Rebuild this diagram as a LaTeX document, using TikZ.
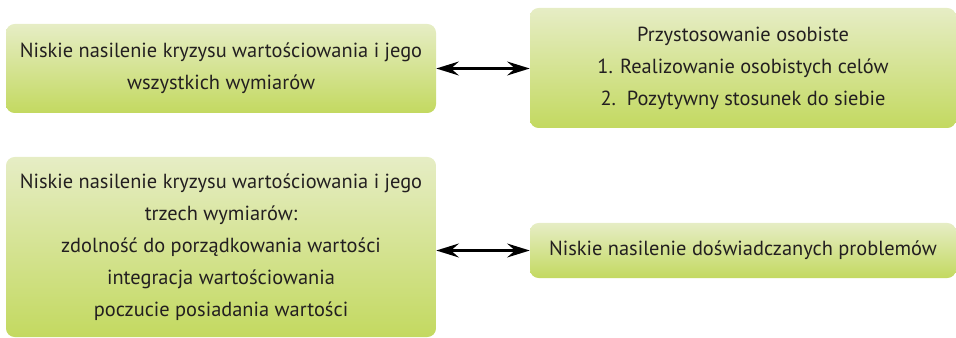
\documentclass[tikz,border=0pt]{standalone}
\usepackage{fontspec}
\setmainfont{PT Sans}
\usetikzlibrary{arrows.meta}
\definecolor{gtop}{RGB}{230,237,197}
\definecolor{gbot}{RGB}{195,217,96}
\definecolor{txt}{RGB}{35,31,32}
\tikzset{
  gbox/.style={rounded corners=6.5pt, top color=gtop, bottom color=gbot, draw=none,
    align=center, inner sep=0pt, text=txt, font=\fontsize{15.3}{24}\selectfont},
  dblarrow/.style={line width=1.6pt, {Stealth[length=17pt,width=10.5pt,inset=6pt]}-{Stealth[length=17pt,width=10.5pt,inset=6pt]}, draw=black}
}
\begin{document}
\begin{tikzpicture}[x=0.75pt,y=0.75pt]
\useasboundingbox (0,0) rectangle (956,-338);
\node[gbox, minimum width=322.5pt, minimum height=66.75pt] (b1) at (221,-68.5)
  {Niskie nasilenie kryzysu wartościowania i jego\\wszystkich wymiarów};
\node[gbox, minimum width=319.5pt, minimum height=90pt] (b2) at (743,-68)
  {Przystosowanie osobiste\\1. Realizowanie osobistych celów\\2.\ \ Pozytywny stosunek do siebie};
\node[gbox, minimum width=322.5pt, minimum height=135pt] (b3) at (221,-247)
  {Niskie nasilenie kryzysu wartościowania i jego\\trzech wymiarów:\\zdolność do porządkowania wartości\\integracja wartościowania\\poczucie posiadania wartości};
\node[gbox, minimum width=319.5pt, minimum height=41.25pt] (b4) at (743,-250.5)
  {Niskie nasilenie doświadczanych problemów};
\draw[dblarrow] (b1.east) -- (b2.west |- b1.east);
\draw[dblarrow] (b4.west -| b3.east) -- (b4.west);
\end{tikzpicture}
\end{document}
